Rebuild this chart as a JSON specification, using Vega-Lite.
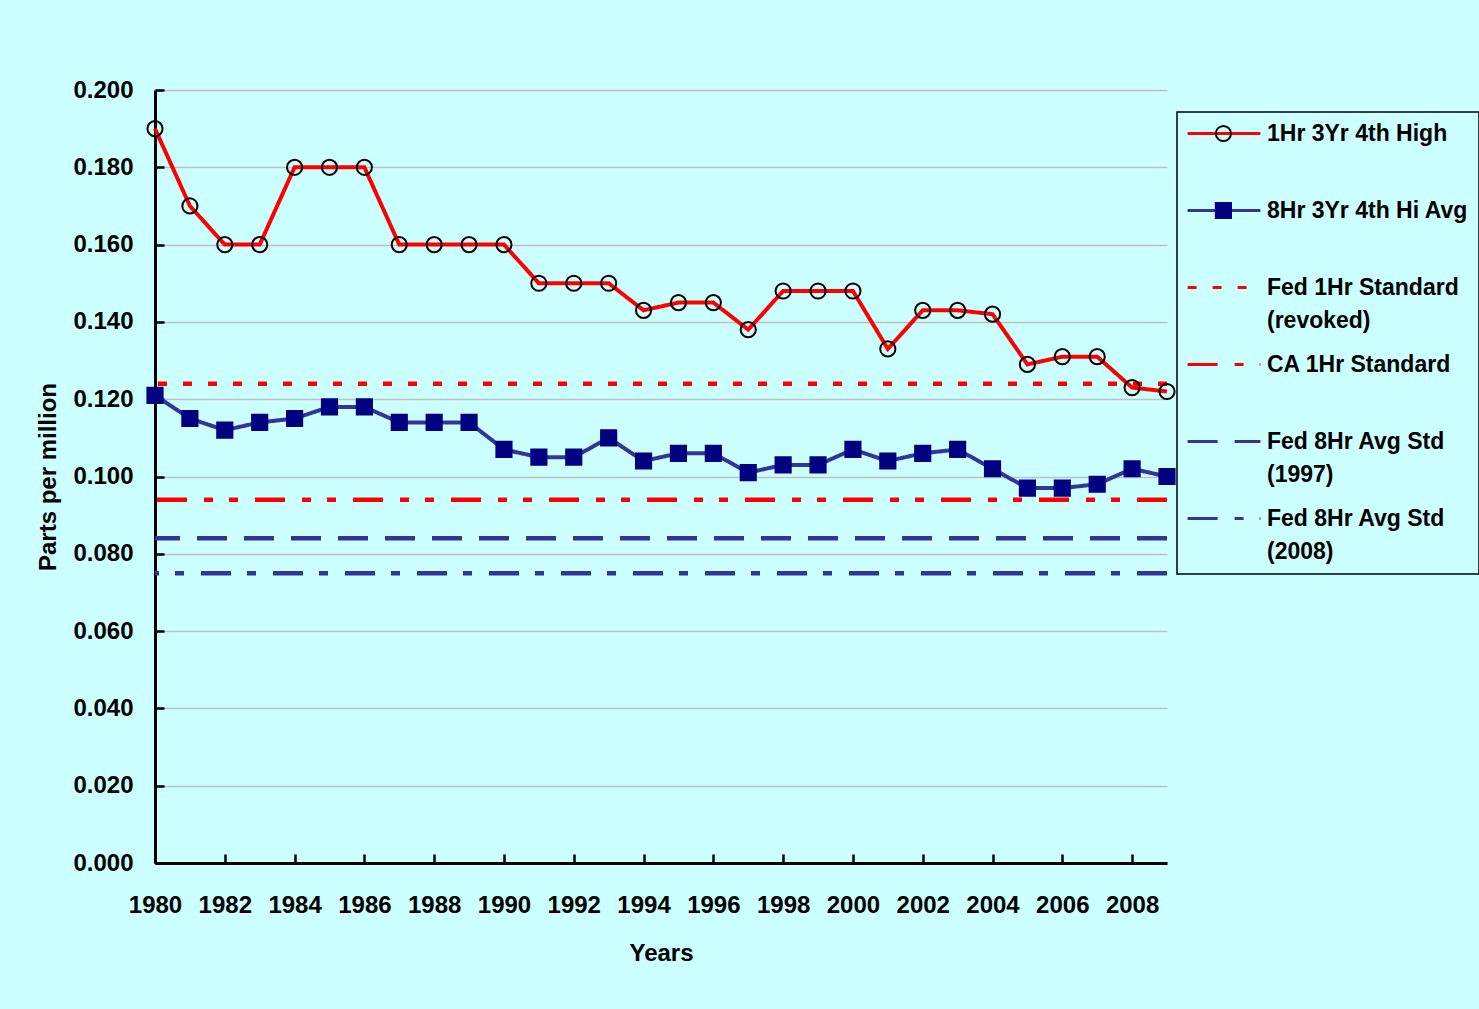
{
  "$schema": "https://vega.github.io/schema/vega-lite/v6.json",
  "width": 1012,
  "height": 773,
  "autosize": {"type": "none"},
  "padding": {"left": 155, "top": 90, "right": 312, "bottom": 146},
  "background": "#CCFFFF",
  "config": {
    "view": {"stroke": null},
    "font": "Liberation Sans",
    "axis": {
      "labelFont": "Liberation Sans",
      "labelFontWeight": "bold",
      "labelFontSize": 24,
      "labelColor": "black",
      "titleFont": "Liberation Sans",
      "titleFontWeight": "bold",
      "titleFontSize": 24,
      "titleColor": "black",
      "domainColor": "black",
      "domainWidth": 3,
      "tickColor": "black",
      "tickWidth": 2.5
    },
    "legend": {
      "labelFont": "Liberation Sans",
      "labelFontWeight": "bold",
      "labelFontSize": 23,
      "labelColor": "black",
      "labelLimit": 0
    }
  },
  "datasets": {
    "obs": [
      {"year": 1980, "series": "1Hr 3Yr 4th High", "ppm": 0.190},
      {"year": 1981, "series": "1Hr 3Yr 4th High", "ppm": 0.170},
      {"year": 1982, "series": "1Hr 3Yr 4th High", "ppm": 0.160},
      {"year": 1983, "series": "1Hr 3Yr 4th High", "ppm": 0.160},
      {"year": 1984, "series": "1Hr 3Yr 4th High", "ppm": 0.180},
      {"year": 1985, "series": "1Hr 3Yr 4th High", "ppm": 0.180},
      {"year": 1986, "series": "1Hr 3Yr 4th High", "ppm": 0.180},
      {"year": 1987, "series": "1Hr 3Yr 4th High", "ppm": 0.160},
      {"year": 1988, "series": "1Hr 3Yr 4th High", "ppm": 0.160},
      {"year": 1989, "series": "1Hr 3Yr 4th High", "ppm": 0.160},
      {"year": 1990, "series": "1Hr 3Yr 4th High", "ppm": 0.160},
      {"year": 1991, "series": "1Hr 3Yr 4th High", "ppm": 0.150},
      {"year": 1992, "series": "1Hr 3Yr 4th High", "ppm": 0.150},
      {"year": 1993, "series": "1Hr 3Yr 4th High", "ppm": 0.150},
      {"year": 1994, "series": "1Hr 3Yr 4th High", "ppm": 0.143},
      {"year": 1995, "series": "1Hr 3Yr 4th High", "ppm": 0.145},
      {"year": 1996, "series": "1Hr 3Yr 4th High", "ppm": 0.145},
      {"year": 1997, "series": "1Hr 3Yr 4th High", "ppm": 0.138},
      {"year": 1998, "series": "1Hr 3Yr 4th High", "ppm": 0.148},
      {"year": 1999, "series": "1Hr 3Yr 4th High", "ppm": 0.148},
      {"year": 2000, "series": "1Hr 3Yr 4th High", "ppm": 0.148},
      {"year": 2001, "series": "1Hr 3Yr 4th High", "ppm": 0.133},
      {"year": 2002, "series": "1Hr 3Yr 4th High", "ppm": 0.143},
      {"year": 2003, "series": "1Hr 3Yr 4th High", "ppm": 0.143},
      {"year": 2004, "series": "1Hr 3Yr 4th High", "ppm": 0.142},
      {"year": 2005, "series": "1Hr 3Yr 4th High", "ppm": 0.129},
      {"year": 2006, "series": "1Hr 3Yr 4th High", "ppm": 0.131},
      {"year": 2007, "series": "1Hr 3Yr 4th High", "ppm": 0.131},
      {"year": 2008, "series": "1Hr 3Yr 4th High", "ppm": 0.123},
      {"year": 2009, "series": "1Hr 3Yr 4th High", "ppm": 0.122},
      {"year": 1980, "series": "8Hr 3Yr 4th Hi Avg", "ppm": 0.121},
      {"year": 1981, "series": "8Hr 3Yr 4th Hi Avg", "ppm": 0.115},
      {"year": 1982, "series": "8Hr 3Yr 4th Hi Avg", "ppm": 0.112},
      {"year": 1983, "series": "8Hr 3Yr 4th Hi Avg", "ppm": 0.114},
      {"year": 1984, "series": "8Hr 3Yr 4th Hi Avg", "ppm": 0.115},
      {"year": 1985, "series": "8Hr 3Yr 4th Hi Avg", "ppm": 0.118},
      {"year": 1986, "series": "8Hr 3Yr 4th Hi Avg", "ppm": 0.118},
      {"year": 1987, "series": "8Hr 3Yr 4th Hi Avg", "ppm": 0.114},
      {"year": 1988, "series": "8Hr 3Yr 4th Hi Avg", "ppm": 0.114},
      {"year": 1989, "series": "8Hr 3Yr 4th Hi Avg", "ppm": 0.114},
      {"year": 1990, "series": "8Hr 3Yr 4th Hi Avg", "ppm": 0.107},
      {"year": 1991, "series": "8Hr 3Yr 4th Hi Avg", "ppm": 0.105},
      {"year": 1992, "series": "8Hr 3Yr 4th Hi Avg", "ppm": 0.105},
      {"year": 1993, "series": "8Hr 3Yr 4th Hi Avg", "ppm": 0.110},
      {"year": 1994, "series": "8Hr 3Yr 4th Hi Avg", "ppm": 0.104},
      {"year": 1995, "series": "8Hr 3Yr 4th Hi Avg", "ppm": 0.106},
      {"year": 1996, "series": "8Hr 3Yr 4th Hi Avg", "ppm": 0.106},
      {"year": 1997, "series": "8Hr 3Yr 4th Hi Avg", "ppm": 0.101},
      {"year": 1998, "series": "8Hr 3Yr 4th Hi Avg", "ppm": 0.103},
      {"year": 1999, "series": "8Hr 3Yr 4th Hi Avg", "ppm": 0.103},
      {"year": 2000, "series": "8Hr 3Yr 4th Hi Avg", "ppm": 0.107},
      {"year": 2001, "series": "8Hr 3Yr 4th Hi Avg", "ppm": 0.104},
      {"year": 2002, "series": "8Hr 3Yr 4th Hi Avg", "ppm": 0.106},
      {"year": 2003, "series": "8Hr 3Yr 4th Hi Avg", "ppm": 0.107},
      {"year": 2004, "series": "8Hr 3Yr 4th Hi Avg", "ppm": 0.102},
      {"year": 2005, "series": "8Hr 3Yr 4th Hi Avg", "ppm": 0.097},
      {"year": 2006, "series": "8Hr 3Yr 4th Hi Avg", "ppm": 0.097},
      {"year": 2007, "series": "8Hr 3Yr 4th Hi Avg", "ppm": 0.098},
      {"year": 2008, "series": "8Hr 3Yr 4th Hi Avg", "ppm": 0.102},
      {"year": 2009, "series": "8Hr 3Yr 4th Hi Avg", "ppm": 0.100}
    ],
    "std": [
      {"series": "Fed 1Hr Standard (revoked)", "ppm": 0.124},
      {"series": "CA 1Hr Standard", "ppm": 0.094},
      {"series": "Fed 8Hr Avg Std (1997)", "ppm": 0.084},
      {"series": "Fed 8Hr Avg Std (2008)", "ppm": 0.075}
    ]
  },
  "layer": [
    {
      "data": {"name": "std"},
      "mark": {"type": "rule", "strokeWidth": 4.5},
      "encoding": {
        "y": {
          "field": "ppm", "type": "quantitative",
          "scale": {"domain": [0, 0.2], "nice": false, "zero": true},
          "axis": {
            "title": "Parts per million",
            "titlePadding": 12,
            "values": [0, 0.01, 0.02, 0.03, 0.04, 0.05, 0.06, 0.07, 0.08, 0.09, 0.1, 0.11, 0.12, 0.13, 0.14, 0.15, 0.16, 0.17, 0.18, 0.19, 0.2],
            "labelExpr": "round(datum.value * 100) % 2 === 0 ? format(datum.value, '.3f') : ''",
            "labelOverlap": false,
            "labelFlush": false,
            "labelPadding": 31,
            "tickSize": -9,
            "grid": true,
            "gridColor": "#C0C0C0",
            "gridWidth": 1.5,
            "gridOpacity": {"condition": {"test": "round(datum.value * 100) % 2 === 0", "value": 1}, "value": 0}
          }
        },
        "color": {
          "field": "series", "type": "nominal",
          "scale": {
            "domain": ["1Hr 3Yr 4th High", "8Hr 3Yr 4th Hi Avg", "Fed 1Hr Standard (revoked)", "CA 1Hr Standard", "Fed 8Hr Avg Std (1997)", "Fed 8Hr Avg Std (2008)"],
            "range": ["#FF0000", "#333399", "#FF0000", "#FF0000", "#333399", "#333399"]
          },
          "legend": {
            "title": null,
            "orient": "none",
            "legendX": 1022,
            "legendY": 22,
            "padding": 10,
            "strokeColor": "black",
            "symbolType": "M-5.2,0H5.2",
            "symbolSize": 196,
            "symbolStrokeWidth": 3,
            "symbolOffset": 25.5,
            "labelOffset": 31.5,
            "rowPadding": 20,
            "labelExpr": "indexof(datum.label, ' (') > 0 ? [slice(datum.label, 0, indexof(datum.label, ' (')), slice(datum.label, indexof(datum.label, ' (') + 1)] : [datum.label, ' ']",
            "encode": {
              "legend": {"update": {"strokeWidth": {"value": 1.5}}},
              "labels": {"update": {"lineHeight": {"value": 33}}}
            }
          }
        },
        "strokeDash": {
          "field": "series", "type": "nominal",
          "scale": {
            "domain": ["1Hr 3Yr 4th High", "8Hr 3Yr 4th Hi Avg", "Fed 1Hr Standard (revoked)", "CA 1Hr Standard", "Fed 8Hr Avg Std (1997)", "Fed 8Hr Avg Std (2008)"],
            "range": [[1, 0], [1, 0], [9, 16], [30, 17, 9, 16, 9, 17], [30, 17], [30, 17, 9, 16]]
          }
        }
      }
    },
    {
      "data": {"name": "obs"},
      "mark": {"type": "line", "strokeWidth": 4},
      "encoding": {
        "x": {
          "field": "year", "type": "quantitative",
          "scale": {"domain": [1980, 2009], "nice": false, "zero": false},
          "axis": {
            "title": "Years",
            "titlePadding": 24,
            "values": [1980, 1981, 1982, 1983, 1984, 1985, 1986, 1987, 1988, 1989, 1990, 1991, 1992, 1993, 1994, 1995, 1996, 1997, 1998, 1999, 2000, 2001, 2002, 2003, 2004, 2005, 2006, 2007, 2008, 2009],
            "labelExpr": "datum.value % 2 === 0 ? '' + datum.value : ''",
            "labelOverlap": false,
            "labelFlush": false,
            "labelPadding": 39,
            "tickSize": -9,
            "grid": false
          }
        },
        "y": {"field": "ppm", "type": "quantitative"},
        "color": {"field": "series", "type": "nominal"},
        "strokeDash": {"field": "series", "type": "nominal"}
      }
    },
    {
      "data": {"name": "obs"},
      "mark": {"type": "point", "strokeWidth": 2, "opacity": 1, "size": 230},
      "encoding": {
        "x": {"field": "year", "type": "quantitative"},
        "y": {"field": "ppm", "type": "quantitative"},
        "shape": {
          "field": "series", "type": "nominal",
          "scale": {"domain": ["1Hr 3Yr 4th High", "8Hr 3Yr 4th Hi Avg"], "range": ["circle", "square"]},
          "legend": {
            "title": null,
            "orient": "none",
            "legendX": 1022,
            "legendY": 22,
            "padding": 10,
            "symbolSize": 230,
            "symbolStrokeWidth": 2,
            "symbolOffset": 24.9,
            "labelOffset": 31.5,
            "rowPadding": 27,
            "labelOpacity": 0,
            "labelExpr": "[datum.label, ' ']",
            "encode": {
              "labels": {"update": {"lineHeight": {"value": 33}}},
              "symbols": {"update": {"fill": {"signal": "datum.value === '1Hr 3Yr 4th High' ? '#CCFFFF' : '#000080'"}}}
            }
          }
        },
        "fill": {
          "field": "series", "type": "nominal",
          "scale": {"domain": ["1Hr 3Yr 4th High", "8Hr 3Yr 4th Hi Avg"], "range": ["transparent", "#000080"]}
        },
        "stroke": {
          "field": "series", "type": "nominal",
          "scale": {"domain": ["1Hr 3Yr 4th High", "8Hr 3Yr 4th Hi Avg"], "range": ["black", "#000080"]}
        }
      }
    }
  ]
}
